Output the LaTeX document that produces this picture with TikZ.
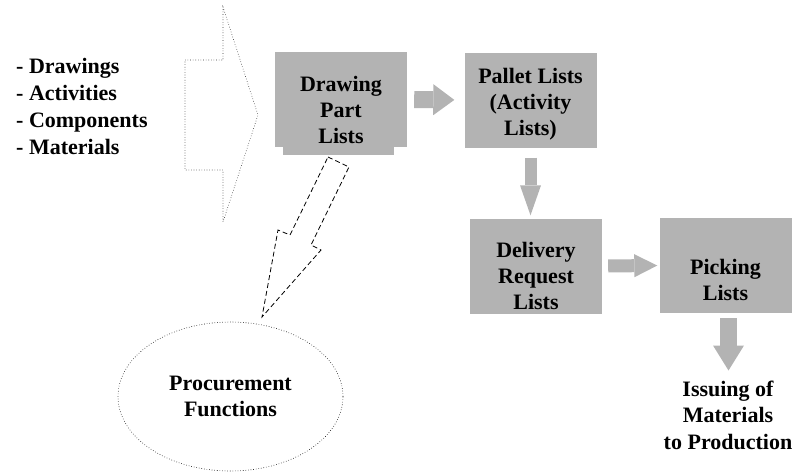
\documentclass[tikz,border=0pt]{standalone}
\usepackage{fontspec}
\setmainfont{Liberation Serif}
\usetikzlibrary{arrows.meta,shapes.geometric}
\definecolor{boxgray}{RGB}{179,179,179}
\tikzset{
  listbox/.style={fill=boxgray, minimum width=132pt, minimum height=95pt, inner sep=0pt},
  boxtext/.style={align=center, inner sep=0pt},
  flowarrow/.style 2 args={boxgray, line width=#1, -{Triangle[length=#2, width=2*#1-3pt, line width=0pt]}},
}
\begin{document}
\begin{tikzpicture}[x=1pt, y=-1pt, every node/.style={font=\fontsize{22}{26}\selectfont\bfseries}]
\useasboundingbox (0,0) rectangle (797,472);
% input list and hollow arrow
\node[anchor=north west, align=left, inner sep=0pt, font=\fontsize{22}{26.7}\selectfont\bfseries] (inputs) at (16,58.5) {- Drawings\\- Activities\\- Components\\- Materials};
\draw[dotted, line width=0.6pt, black!80] (185,60) -- (223,60) -- (223,7) -- (258,115) -- (223,222) -- (223,170) -- (185,170) -- cycle;
% list boxes
\node[listbox] (dpl) at (341,99.5) {};
\fill[boxgray] ([xshift=8pt]dpl.south west) rectangle ([xshift=-13pt, yshift=-8pt]dpl.south east);
\node[boxtext] (dpltext) at ([yshift=-10pt]dpl.center) {Drawing\\Part\\Lists};
\node[listbox] (pal) at (530.5,100) {};
\node[boxtext] (paltext) at ([yshift=-4pt]pal.center) {Pallet Lists\\(Activity\\Lists)};
\node[listbox] (del) at (536,266) {};
\node[boxtext] (deltext) at ([yshift=-10pt]del.center) {Delivery\\Request\\Lists};
\node[listbox] (pick) at (725.5,265.5) {};
\node[boxtext] (picktext) at ([yshift=-14pt]pick.center) {Picking\\Lists};
\node[anchor=north, align=center, inner sep=0pt, font=\fontsize{22}{26.7}\selectfont\bfseries] (issue) at (728,380.5) {Issuing of\\Materials\\to Production};
\node[draw, dotted, line width=0.6pt, shape=ellipse, minimum width=225pt, minimum height=149pt, align=center] (proc) at (230.5,396.5) {Procurement\\Functions};
% flow arrows
\draw[flowarrow={17pt}{21pt}, shorten <=7pt, shorten >=10pt] (dpl.east) -- (pal.west);
\draw[flowarrow={12pt}{30pt}, shorten <=10pt, shorten >=3pt] (pal.south) -- (pal.south |- del.north);
\draw[flowarrow={13pt}{23pt}, shorten <=6pt, shorten >=2pt] (del.east) -- (pick.west);
\draw[flowarrow={17pt}{25pt}, shorten <=5pt, shorten >=10pt] ([xshift=3pt]pick.south) -- ([xshift=3pt]pick.south |- issue.north);
% dashed hollow arrow to procurement
\draw[dash pattern=on 5pt off 3pt, line width=0.8pt] (328,157) -- (349,167) -- (311,245) -- (321,250) -- (262,317) -- (278,230) -- (290,235) -- cycle;
\end{tikzpicture}
\end{document}
